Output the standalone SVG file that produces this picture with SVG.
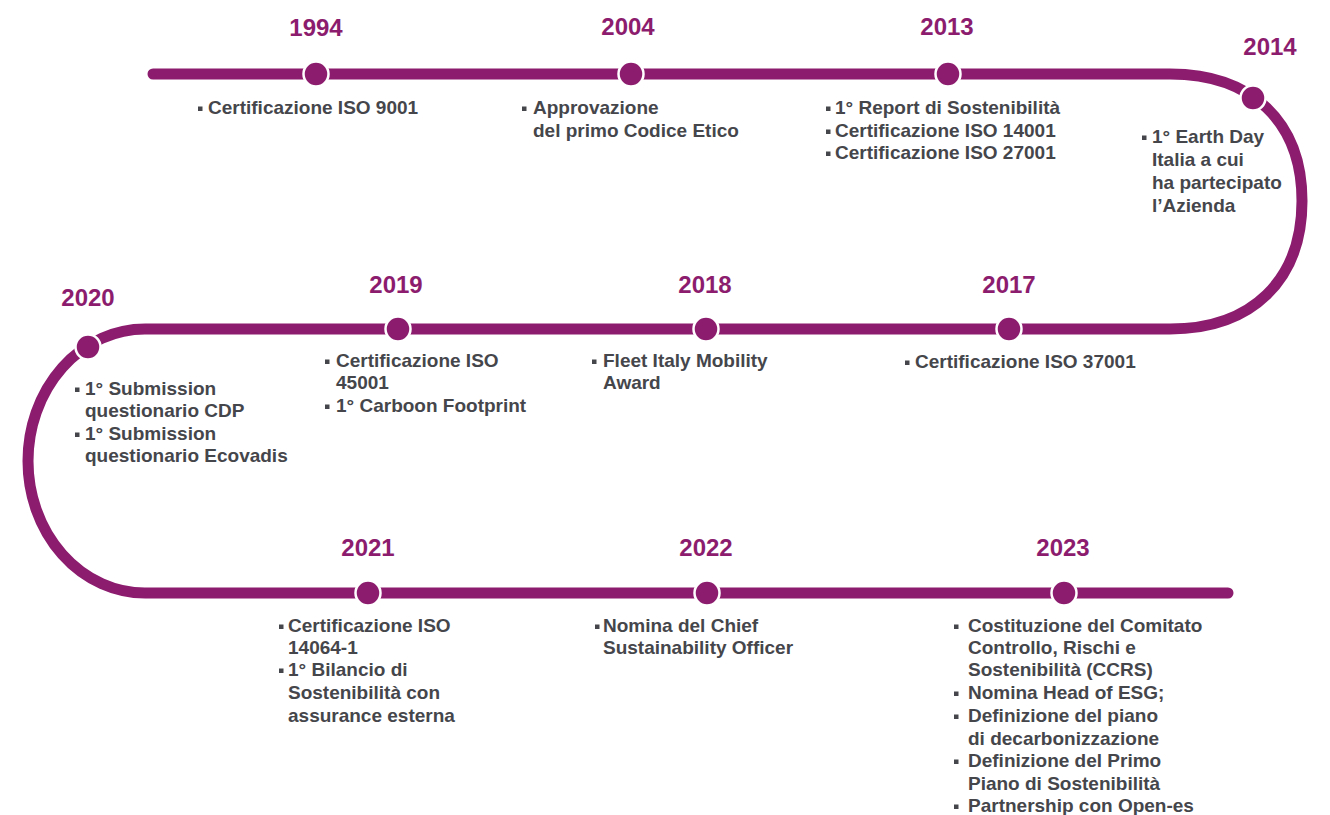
<svg xmlns="http://www.w3.org/2000/svg" width="1330" height="815" viewBox="0 0 1330 815">
<style>
.line{fill:none;stroke:#8C1D6E;stroke-width:11;stroke-linecap:round}
.dot{fill:#8C1D6E;stroke:#fff;stroke-width:2.5}
.yr{font-family:"Liberation Sans",Arial,sans-serif;font-weight:bold;font-size:24px;fill:#8C1D6E;text-anchor:middle}
.tx{font-family:"Liberation Sans",Arial,sans-serif;font-weight:bold;font-size:19px;fill:#45464B}
.b{fill:#45464B}
</style>
<rect width="1330" height="815" fill="#fff"/>
<g id="connectors">
<path class="line" d="M153,74 H1170 C1252,74 1302,122 1302,201 C1302,280 1252,329 1170,329 H145 A117,132 0 0 0 145,593 H1228"/>
</g>
<g id="n1994">
<circle class="dot" cx="316" cy="74" r="12.5"/>
<text class="yr" x="316" y="36">1994</text>
<rect class="b" x="198" y="106.5" width="4.5" height="4.5"/>
<text class="tx" x="208" y="114">Certificazione ISO 9001</text>
</g>
<g id="n2004">
<circle class="dot" cx="631" cy="74" r="12.5"/>
<text class="yr" x="628" y="35">2004</text>
<rect class="b" x="522" y="106.5" width="4.5" height="4.5"/>
<text class="tx" x="533" y="114">Approvazione</text>
<text class="tx" x="533" y="137">del primo Codice Etico</text>
</g>
<g id="n2013">
<circle class="dot" cx="948" cy="74" r="12.5"/>
<text class="yr" x="947" y="35">2013</text>
<rect class="b" x="826" y="106.5" width="4.5" height="4.5"/>
<text class="tx" x="835" y="114">1° Report di Sostenibilità</text>
<rect class="b" x="826" y="129.5" width="4.5" height="4.5"/>
<text class="tx" x="835" y="137">Certificazione ISO 14001</text>
<rect class="b" x="826" y="151.5" width="4.5" height="4.5"/>
<text class="tx" x="835" y="159">Certificazione ISO 27001</text>
</g>
<g id="n2014">
<circle class="dot" cx="1253" cy="98" r="12.5"/>
<text class="yr" x="1270" y="55">2014</text>
<rect class="b" x="1142" y="135.5" width="4.5" height="4.5"/>
<text class="tx" x="1152" y="143">1° Earth Day</text>
<text class="tx" x="1152" y="166">Italia a cui</text>
<text class="tx" x="1152" y="189">ha partecipato</text>
<text class="tx" x="1152" y="212">l’Azienda</text>
</g>
<g id="n2017">
<circle class="dot" cx="1009" cy="329" r="12.5"/>
<text class="yr" x="1009" y="293">2017</text>
<rect class="b" x="905" y="360.5" width="4.5" height="4.5"/>
<text class="tx" x="915" y="368">Certificazione ISO 37001</text>
</g>
<g id="n2018">
<circle class="dot" cx="706" cy="329" r="12.5"/>
<text class="yr" x="705" y="293">2018</text>
<rect class="b" x="592" y="359.5" width="4.5" height="4.5"/>
<text class="tx" x="603" y="367">Fleet Italy Mobility</text>
<text class="tx" x="603" y="389">Award</text>
</g>
<g id="n2019">
<circle class="dot" cx="398" cy="329" r="12.5"/>
<text class="yr" x="396" y="293">2019</text>
<rect class="b" x="325" y="359.5" width="4.5" height="4.5"/>
<text class="tx" x="336" y="367">Certificazione ISO</text>
<text class="tx" x="336" y="389">45001</text>
<rect class="b" x="325" y="404.5" width="4.5" height="4.5"/>
<text class="tx" x="336" y="412">1° Carboon Footprint</text>
</g>
<g id="n2020">
<circle class="dot" cx="88" cy="347" r="12.5"/>
<text class="yr" x="88" y="306">2020</text>
<rect class="b" x="75" y="387.5" width="4.5" height="4.5"/>
<text class="tx" x="85" y="395">1° Submission</text>
<text class="tx" x="85" y="417">questionario CDP</text>
<rect class="b" x="75" y="432.5" width="4.5" height="4.5"/>
<text class="tx" x="85" y="440">1° Submission</text>
<text class="tx" x="85" y="462">questionario Ecovadis</text>
</g>
<g id="n2021">
<circle class="dot" cx="368" cy="593" r="12.5"/>
<text class="yr" x="368" y="556">2021</text>
<rect class="b" x="279" y="624.5" width="4.5" height="4.5"/>
<text class="tx" x="288" y="632">Certificazione ISO</text>
<text class="tx" x="288" y="654">14064-1</text>
<rect class="b" x="279" y="668.5" width="4.5" height="4.5"/>
<text class="tx" x="288" y="676">1° Bilancio di</text>
<text class="tx" x="288" y="699">Sostenibilità con</text>
<text class="tx" x="288" y="722">assurance esterna</text>
</g>
<g id="n2022">
<circle class="dot" cx="707" cy="593" r="12.5"/>
<text class="yr" x="706" y="556">2022</text>
<rect class="b" x="595" y="624.5" width="4.5" height="4.5"/>
<text class="tx" x="603" y="632">Nomina del Chief</text>
<text class="tx" x="603" y="654">Sustainability Officer</text>
</g>
<g id="n2023">
<circle class="dot" cx="1064" cy="593" r="12.5"/>
<text class="yr" x="1063" y="556">2023</text>
<rect class="b" x="954" y="624.5" width="4.5" height="4.5"/>
<text class="tx" x="968" y="632">Costituzione del Comitato</text>
<text class="tx" x="968" y="654">Controllo, Rischi e</text>
<text class="tx" x="968" y="676">Sostenibilità (CCRS)</text>
<rect class="b" x="954" y="691.5" width="4.5" height="4.5"/>
<text class="tx" x="968" y="699">Nomina Head of ESG;</text>
<rect class="b" x="954" y="714.5" width="4.5" height="4.5"/>
<text class="tx" x="968" y="722">Definizione del piano</text>
<text class="tx" x="968" y="745">di decarbonizzazione</text>
<rect class="b" x="954" y="759.5" width="4.5" height="4.5"/>
<text class="tx" x="968" y="767">Definizione del Primo</text>
<text class="tx" x="968" y="790">Piano di Sostenibilità</text>
<rect class="b" x="954" y="804.5" width="4.5" height="4.5"/>
<text class="tx" x="968" y="812">Partnership con Open-es</text>
</g>
</svg>
